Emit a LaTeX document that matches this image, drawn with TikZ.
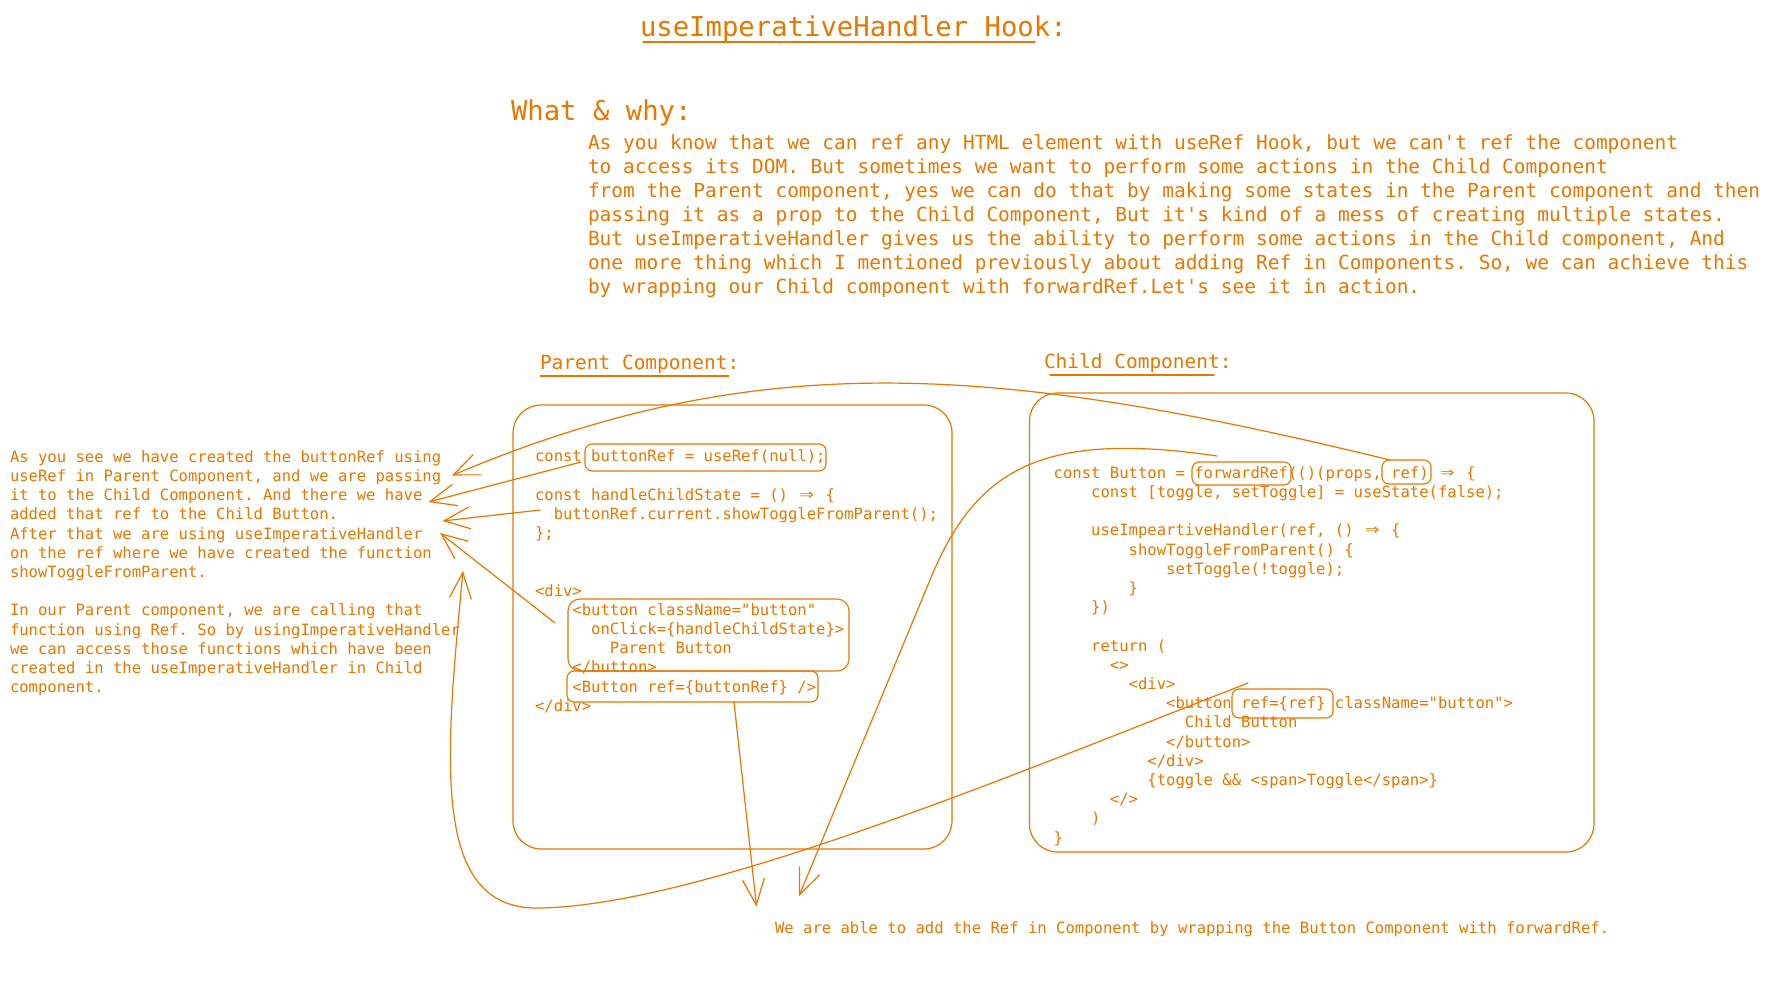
\documentclass[tikz,border=0pt]{standalone}
\usepackage{fontspec}
\usepackage{graphicx}
\setmonofont{DejaVu Sans Mono}
\usetikzlibrary{arrows.meta}
\definecolor{ora}{HTML}{E67700}
\newcommand\ind[1]{\hspace*{\dimexpr #1em*602/1000\relax}}
\newcommand\imp{\makebox[\dimexpr 2em*602/1000\relax]{\scalebox{1.5}[1.25]{⇒}}}
\newcommand\codeS{\ttfamily\fontsize{15.57}{19.2}\selectfont}
\newcommand\codeM{\ttfamily\fontsize{19.47}{24}\selectfont}
\newcommand\codeL{\ttfamily\fontsize{27.26}{32}\selectfont}
\tikzset{
  ink/.style={draw=ora, line width=1.2pt, line cap=round, line join=round},
  lbl/.style={text=ora, inner sep=0pt, outer sep=0pt},
  blk/.style={lbl, anchor=north west, align=left},
  hl/.style={draw=ora, line width=1.1pt, rounded corners=7pt, inner sep=0pt, outer sep=0pt},
  pane/.style={draw=ora, line width=1.2pt, rounded corners=28pt, inner sep=0pt, outer sep=0pt},
  arr/.style={draw=ora, line width=1.2pt, line cap=round, line join=round, -{Straight Barb[length=26pt,width=22pt]}},
}
\begin{document}
\begin{tikzpicture}[x=1pt,y=-1pt]
\fill[white] (0,0) rectangle (1770,985);
\useasboundingbox (0,0) rectangle (1770,985);

% titles
\node[lbl, anchor=base west, font=\codeL] (title) at (640,36.5) {useImperativeHandler Hook:};
\draw[ink] (643,42) -- (1035,42);
\node[lbl, anchor=base west, font=\codeL] (what) at (511,120.5) {What \& why:};
\node[blk, font=\codeM] (desc) at (588,132.2) {\strut As you know that we can ref any HTML element with useRef Hook, but we can't ref the component\\
to access its DOM. But sometimes we want to perform some actions in the Child Component\\
from the Parent component, yes we can do that by making some states in the Parent component and then\\
passing it as a prop to the Child Component, But it's kind of a mess of creating multiple states.\\
But useImperativeHandler gives us the ability to perform some actions in the Child component, And\\
one more thing which I mentioned previously about adding Ref in Components. So, we can achieve this\\
by wrapping our Child component with forwardRef.Let's see it in action.};

\node[lbl, anchor=base west, font=\codeM] (plabel) at (540,369) {Parent Component:};
\draw[ink] (540,376) -- (729,376);
\node[lbl, anchor=base west, font=\codeM] (clabel) at (1044,368) {Child Component:};
\draw[ink] (1050,375) -- (1214,375);

% panes
\node[pane, minimum width=439pt, minimum height=444pt] (parent) at (732.5,627) {};
\node[pane, minimum width=564.5pt, minimum height=459pt] (child) at (1311.75,622.5) {};

% parent code
\node[blk, font=\codeS] (pcode) at (535,448.3) {\strut const buttonRef = useRef(null);\\
\\
const handleChildState = () \imp{} \{\\
\ind{2}buttonRef.current.showToggleFromParent();\\
\};\\
\\
\\
<div>\\
\ind{4}<button className="button"\\
\ind{6}onClick=\{handleChildState\}>\\
\ind{8}Parent Button\\
\ind{4}</button>\\
\ind{4}<Button ref=\{buttonRef\} />\\
</div>};

% child code
\node[blk, font=\codeS] (ccode) at (1053.7,464.9) {\strut const Button = forwardRef(()(props, ref) \imp{} \{\\
\ind{4}const [toggle, setToggle] = useState(false);\\
\\
\ind{4}useImpeartiveHandler(ref, () \imp{} \{\\
\ind{8}showToggleFromParent() \{\\
\ind{12}setToggle(!toggle);\\
\ind{8}\}\\
\ind{4}\})\\
\\
\ind{4}return (\\
\ind{6}<>\\
\ind{8}<div>\\
\ind{12}<button ref=\{ref\} className="button">\\
\ind{14}Child Button\\
\ind{12}</button>\\
\ind{10}</div>\\
\ind{10}\{toggle \&\& <span>Toggle</span>\}\\
\ind{6}</>\\
\ind{4})\\
\}};

% left note
\node[blk, font=\codeS] (note) at (10,448.9) {\strut As you see we have created the buttonRef using\\
useRef in Parent Component, and we are passing\\
it to the Child Component. And there we have\\
added that ref to the Child Button.\\
After that we are using useImperativeHandler\\
on the ref where we have created the function\\
showToggleFromParent.\\
\\
In our Parent component, we are calling that\\
function using Ref. So by usingImperativeHandler\\
we can access those functions which have been\\
created in the useImperativeHandler in Child\\
component.};

% bottom note
\node[lbl, anchor=base west, font=\codeS] (bnote) at (775,933) {We are able to add the Ref in Component by wrapping the Button Component with forwardRef.};

% highlight boxes
\node[hl, minimum width=241pt, minimum height=27pt] (bref) at (705.5,457.5) {};
\node[hl, rounded corners=12pt, minimum width=281pt, minimum height=72pt] (btn) at (708.5,635) {};
\node[hl, minimum width=251pt, minimum height=31pt] (bcomp) at (692.5,686.5) {};
\node[hl, minimum width=99pt, minimum height=23pt] (fwd) at (1241.5,473.5) {};
\node[hl, minimum width=49pt, minimum height=24pt] (refp) at (1406.5,472) {};
\node[hl, minimum width=101pt, minimum height=29pt] (refr) at (1282.5,703.5) {};

% arrow ends
\coordinate (tA) at (452,475.5);
\coordinate (tB) at (428.5,502);
\coordinate (tC) at (442.5,521);
\coordinate (tD) at (440,533);
\coordinate (tE) at (463,571);
\coordinate (tF) at (756.5,906.5);
\coordinate (tG) at (799,896);
\coordinate (cS) at (540,510);

% connectors
\draw[arr] ([xshift=8pt]refp.north west) .. controls (1000,365) and (760,345) .. (tA);
\draw[arr] ([xshift=-4pt,yshift=-4.5pt]bref.west) -- (tB);
\draw[arr] (cS) -- (tC);
\draw[arr] ([xshift=-13pt,yshift=12pt]btn.west) -- (tD);
\draw[arr] ([xshift=16pt,yshift=6pt]refr.north west) .. controls (1000,780) and (700,905) .. (540,908) .. controls (430,911) and (445,760) .. (tE);
\draw[arr] ([xshift=41.5pt]bcomp.south) -- (tF);
\draw[arr] ([xshift=-24.5pt,yshift=6pt]fwd.north) .. controls (1040,430) and (975,470) .. (930,580) -- (tG);
\end{tikzpicture}
\end{document}
